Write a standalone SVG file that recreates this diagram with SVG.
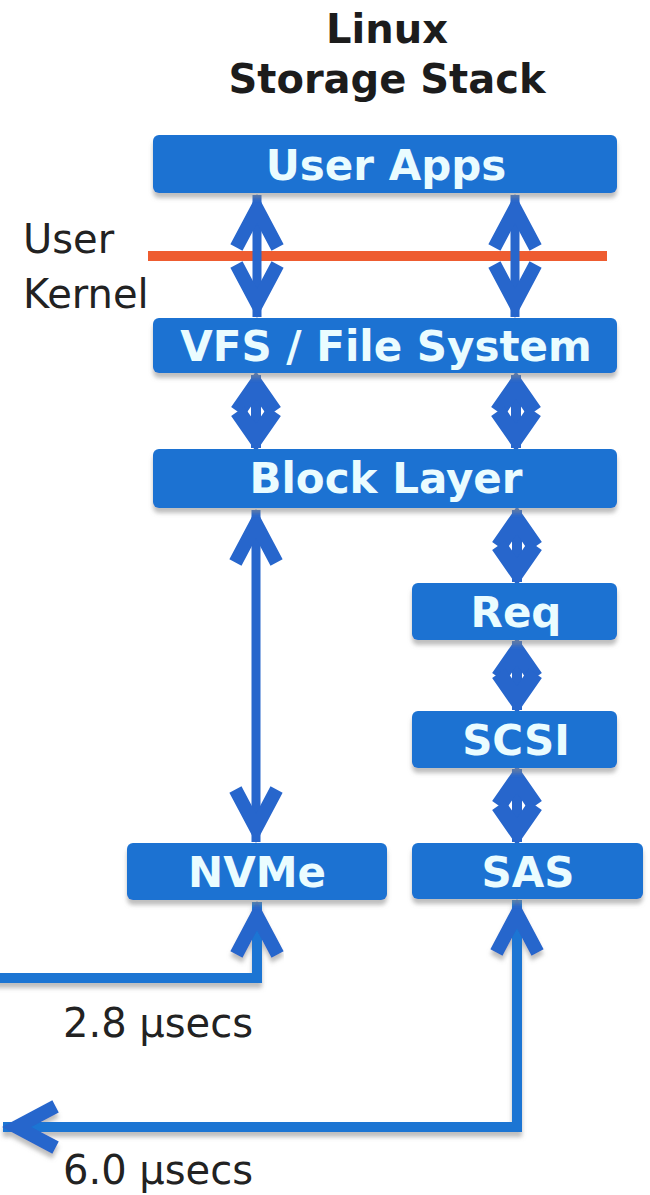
<svg xmlns="http://www.w3.org/2000/svg" width="650" height="1195" viewBox="0 0 650 1195">
<style>
.box{fill:#1b72d2;filter:url(#sh)}
.bt{font-family:"DejaVu Sans",Verdana,sans-serif;font-weight:bold;font-size:42px;fill:#eafcff;text-anchor:middle}
.title{font-family:"DejaVu Sans",Verdana,sans-serif;font-weight:bold;font-size:40px;fill:#1c1c1c;text-anchor:middle}
.lbl{font-family:"DejaVu Sans",Verdana,sans-serif;font-size:40px;fill:#222}
.big{stroke:#2766cc;stroke-width:9;fill:none;marker-start:url(#hb);marker-end:url(#hb)}
.sm{stroke:#2766cc;stroke-width:10;fill:none;marker-start:url(#hs);marker-end:url(#hs)}
.wire{stroke:#1b74d3;stroke-width:10;fill:none;filter:url(#sh)}
</style>
<defs>
<filter id="sh" x="-10%" y="-20%" width="120%" height="160%">
<feDropShadow dx="0" dy="5" stdDeviation="2" flood-color="#888" flood-opacity="0.55"/>
</filter>
<marker id="hb" markerUnits="userSpaceOnUse" orient="auto-start-reverse" markerWidth="80" markerHeight="80" viewBox="-60 -30 70 60" refX="0" refY="0" overflow="visible">
<path d="M -46 -18 L -12 0 L -46 18" fill="none" stroke="#2766cc" stroke-width="12" stroke-linejoin="miter" stroke-miterlimit="10"/>
</marker>
<marker id="hs" markerUnits="userSpaceOnUse" orient="auto-start-reverse" markerWidth="80" markerHeight="80" viewBox="-60 -30 70 60" refX="0" refY="0" overflow="visible">
<path d="M -32 -16 L -9 0 L -32 16" fill="none" stroke="#2766cc" stroke-width="14" stroke-linejoin="miter" stroke-miterlimit="10"/>
</marker>
</defs>
<rect width="650" height="1195" fill="#ffffff"/>
<g id="title">
<text class="title" x="387" y="43">Linux</text>
<text class="title" x="387" y="93">Storage Stack</text>
</g>
<g id="labels">
<text class="lbl" x="23" y="253">User</text>
<text class="lbl" x="23" y="308">Kernel</text>
<text class="lbl" x="63" y="1037" font-size="41">2.8 µsecs</text>
<text class="lbl" x="63" y="1184" font-size="41">6.0 µsecs</text>
</g>
<line id="boundary" x1="148" y1="256" x2="607" y2="256" stroke="#ee5c30" stroke-width="10"/>
<g id="connectors">
<line class="big" x1="257" y1="195" x2="257" y2="317"/>
<line class="big" x1="515" y1="195" x2="515" y2="317"/>
<line class="sm" x1="256" y1="375" x2="256" y2="448"/>
<line class="sm" x1="516" y1="375" x2="516" y2="448"/>
<line class="big" x1="256" y1="510" x2="256" y2="842"/>
<line class="sm" x1="517" y1="510" x2="517" y2="582"/>
<line class="sm" x1="517" y1="641" x2="517" y2="710"/>
<line class="sm" x1="517" y1="769" x2="517" y2="842"/>
<path class="wire" d="M -5 978 H 257 V 902" marker-end="url(#hb)"/>
<path class="wire" d="M 3 1127 H 517 V 900" marker-start="url(#hb)" marker-end="url(#hb)"/>
</g>
<g id="userapps"><rect class="box" x="153" y="135" width="464" height="58" rx="6"/><text class="bt" x="386" y="180">User Apps</text></g>
<g id="vfs"><rect class="box" x="153" y="318" width="464" height="55" rx="6"/><text class="bt" x="386" y="361">VFS / File System</text></g>
<g id="block"><rect class="box" x="153" y="449" width="464" height="59" rx="6"/><text class="bt" x="386" y="493">Block Layer</text></g>
<g id="req"><rect class="box" x="412" y="583" width="205" height="57" rx="6"/><text class="bt" x="516" y="627">Req</text></g>
<g id="scsi"><rect class="box" x="412" y="711" width="205" height="57" rx="6"/><text class="bt" x="516" y="755">SCSI</text></g>
<g id="nvme"><rect class="box" x="127" y="843" width="260" height="57" rx="6"/><text class="bt" x="257" y="887">NVMe</text></g>
<g id="sas"><rect class="box" x="412" y="843" width="231" height="56" rx="6"/><text class="bt" x="528" y="887">SAS</text></g>
</svg>
